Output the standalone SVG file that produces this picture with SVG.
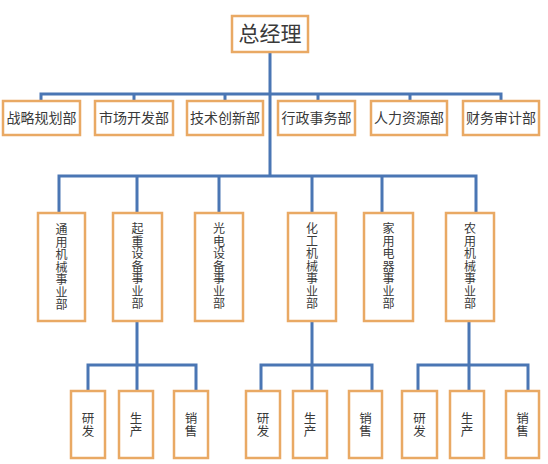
<svg xmlns="http://www.w3.org/2000/svg" width="548" height="464" viewBox="0 0 548 464">
<style>
.box{fill:#fff;stroke:#e9a964;stroke-width:2.5}
.ln{fill:none;stroke:#4a76b4;stroke-width:3}
text{font-family:"Noto Sans CJK SC","Noto Sans",sans-serif;fill:#3a3a3a;text-anchor:middle}
.t1{font-size:21px}
.t2{font-size:14px}
.t3{font-size:12px}
.t4{font-size:12.5px}
</style>
<rect width="548" height="464" fill="#fff"/>
<g id="connectors">
<path class="ln" d="M270 52V176M41 101V94H501V101M134 94V101M225 94V101M318 94V101M410 94V101"/>
<path class="ln" d="M59 213V176H476V213M137 176V213M219 176V213M312 176V213M382 176V213"/>
<path class="ln" d="M137 321V391M88 391V365H196V391"/>
<path class="ln" d="M312 321V391M261 391V365H372V391"/>
<path class="ln" d="M469 321V391M418 391V365H528V391"/>
</g>
<g id="n0"><rect class="box" x="232" y="16" width="76" height="36"/><text class="t1" x="270" y="41">总经理</text></g>
<g id="d1"><rect class="box" x="3" y="101" width="77" height="34"/><text class="t2" x="41.5" y="123">战略规划部</text></g>
<g id="d2"><rect class="box" x="95" y="101" width="78" height="34"/><text class="t2" x="134" y="123">市场开发部</text></g>
<g id="d3"><rect class="box" x="187" y="101" width="76" height="34"/><text class="t2" x="225" y="123">技术创新部</text></g>
<g id="d4"><rect class="box" x="278" y="101" width="77" height="34"/><text class="t2" x="316.5" y="123">行政事务部</text></g>
<g id="d5"><rect class="box" x="371" y="101" width="76" height="34"/><text class="t2" x="409" y="123">人力资源部</text></g>
<g id="d6"><rect class="box" x="463" y="101" width="76" height="34"/><text class="t2" x="501" y="123">财务审计部</text></g>
<g id="b1"><rect class="box" x="38" y="213" width="47" height="108"/><text class="t3"><tspan x="61.5" y="234">通</tspan><tspan x="61.5" y="246.5">用</tspan><tspan x="61.5" y="259">机</tspan><tspan x="61.5" y="271.5">械</tspan><tspan x="61.5" y="284">事</tspan><tspan x="61.5" y="296.5">业</tspan><tspan x="61.5" y="309">部</tspan></text></g>
<g id="b2"><rect class="box" x="113" y="213" width="49" height="108"/><text class="t3"><tspan x="137.5" y="233">起</tspan><tspan x="137.5" y="245.5">重</tspan><tspan x="137.5" y="258">设</tspan><tspan x="137.5" y="270.5">备</tspan><tspan x="137.5" y="283">事</tspan><tspan x="137.5" y="295.5">业</tspan><tspan x="137.5" y="308">部</tspan></text></g>
<g id="b3"><rect class="box" x="195" y="213" width="48" height="108"/><text class="t3"><tspan x="219" y="233">光</tspan><tspan x="219" y="245.5">电</tspan><tspan x="219" y="258">设</tspan><tspan x="219" y="270.5">备</tspan><tspan x="219" y="283">事</tspan><tspan x="219" y="295.5">业</tspan><tspan x="219" y="308">部</tspan></text></g>
<g id="b4"><rect class="box" x="288" y="213" width="48" height="108"/><text class="t3"><tspan x="312" y="233">化</tspan><tspan x="312" y="245.5">工</tspan><tspan x="312" y="258">机</tspan><tspan x="312" y="270.5">械</tspan><tspan x="312" y="283">事</tspan><tspan x="312" y="295.5">业</tspan><tspan x="312" y="308">部</tspan></text></g>
<g id="b5"><rect class="box" x="364" y="213" width="49" height="108"/><text class="t3"><tspan x="388.5" y="233">家</tspan><tspan x="388.5" y="245.5">用</tspan><tspan x="388.5" y="258">电</tspan><tspan x="388.5" y="270.5">器</tspan><tspan x="388.5" y="283">事</tspan><tspan x="388.5" y="295.5">业</tspan><tspan x="388.5" y="308">部</tspan></text></g>
<g id="b6"><rect class="box" x="446" y="213" width="48" height="108"/><text class="t3"><tspan x="470" y="233">农</tspan><tspan x="470" y="245.5">用</tspan><tspan x="470" y="258">机</tspan><tspan x="470" y="270.5">械</tspan><tspan x="470" y="283">事</tspan><tspan x="470" y="295.5">业</tspan><tspan x="470" y="308">部</tspan></text></g>
<g id="g1a"><rect class="box" x="71" y="391" width="34" height="67"/><text class="t4"><tspan x="88" y="423">研</tspan><tspan x="88" y="436">发</tspan></text></g>
<g id="g1b"><rect class="box" x="119" y="391" width="34" height="67"/><text class="t4"><tspan x="136" y="423">生</tspan><tspan x="136" y="436">产</tspan></text></g>
<g id="g1c"><rect class="box" x="174" y="391" width="34" height="67"/><text class="t4"><tspan x="191" y="423">销</tspan><tspan x="191" y="436">售</tspan></text></g>
<g id="g2a"><rect class="box" x="246" y="391" width="34" height="67"/><text class="t4"><tspan x="263" y="423">研</tspan><tspan x="263" y="436">发</tspan></text></g>
<g id="g2b"><rect class="box" x="293" y="391" width="34" height="67"/><text class="t4"><tspan x="310" y="423">生</tspan><tspan x="310" y="436">产</tspan></text></g>
<g id="g2c"><rect class="box" x="349" y="391" width="33" height="67"/><text class="t4"><tspan x="365.5" y="423">销</tspan><tspan x="365.5" y="436">售</tspan></text></g>
<g id="g3a"><rect class="box" x="402" y="391" width="35" height="67"/><text class="t4"><tspan x="419.5" y="423">研</tspan><tspan x="419.5" y="436">发</tspan></text></g>
<g id="g3b"><rect class="box" x="450" y="391" width="34" height="67"/><text class="t4"><tspan x="467" y="423">生</tspan><tspan x="467" y="436">产</tspan></text></g>
<g id="g3c"><rect class="box" x="506" y="391" width="33" height="67"/><text class="t4"><tspan x="522.5" y="423">销</tspan><tspan x="522.5" y="436">售</tspan></text></g>
</svg>
